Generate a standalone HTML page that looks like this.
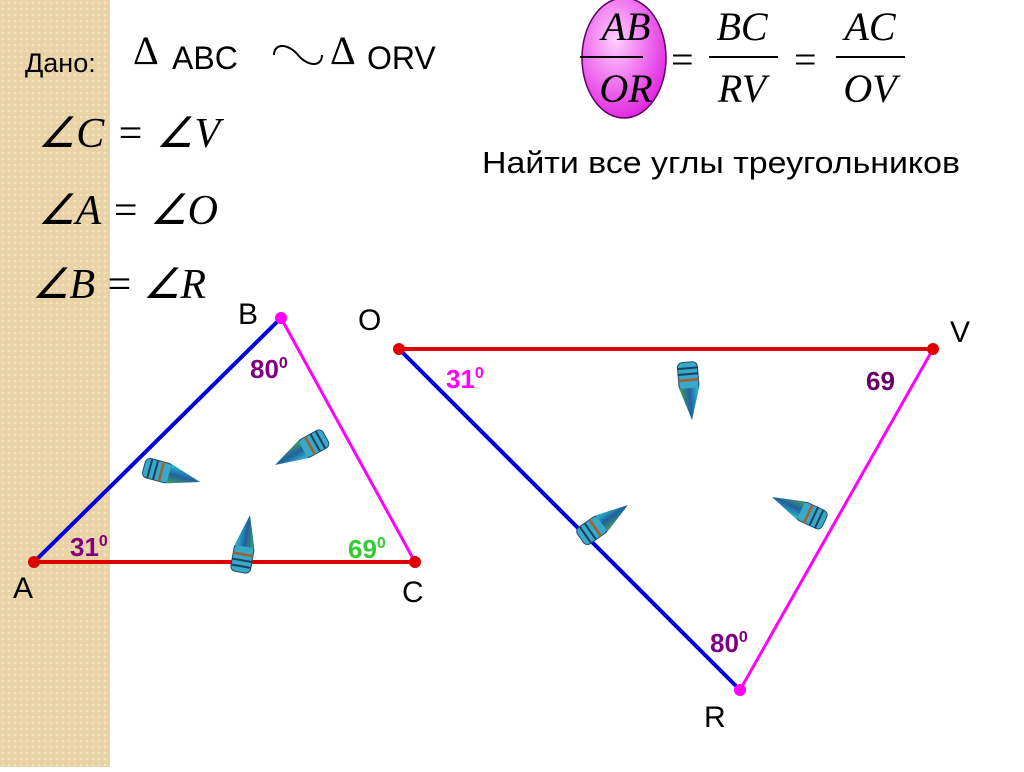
<!DOCTYPE html>
<html><head><meta charset="utf-8"><style>
body{margin:0;width:1024px;height:767px;overflow:hidden;background:#fff;font-family:"Liberation Sans",sans-serif}
</style></head><body>
<svg width="1024" height="767" viewBox="0 0 1024 767" xmlns="http://www.w3.org/2000/svg">
<defs>
<pattern id="p" width="6" height="6" patternUnits="userSpaceOnUse"><rect width="6" height="6" fill="#e9d3a6"/><circle cx="3" cy="3" r="1.2" fill="#f3e3c2"/></pattern>
<radialGradient id="eg" cx="0.4" cy="0.35" r="0.7"><stop offset="0" stop-color="#ffd0ff"/><stop offset="1" stop-color="#e020e0"/></radialGradient>
<linearGradient id="cg" x1="0" y1="0" x2="0" y2="1"><stop offset="0" stop-color="#30c0d0"/><stop offset="0.5" stop-color="#2060a0"/><stop offset="1" stop-color="#40a060"/></linearGradient>
<g id="d">
<rect x="-58" y="-10" width="28" height="20" rx="5" fill="#3aa8c8" stroke="#1a5070" stroke-width="1"/>
<line x1="-52" y1="-10" x2="-52" y2="10" stroke="#1a4060" stroke-width="2"/>
<line x1="-46" y1="-10" x2="-46" y2="10" stroke="#1a4060" stroke-width="2"/>
<line x1="-40" y1="-10" x2="-40" y2="10" stroke="#a06030" stroke-width="2.5"/>
<polygon points="-32,-10 0,0 -32,10" fill="url(#cg)"/>
</g>
</defs>
<rect x="0" y="0" width="110" height="767" fill="url(#p)"/>
<text x="25" y="72" font-size="27" fill="#000">Дано:</text>
<text x="133" y="64" font-size="40" font-family="Liberation Serif">Δ</text>
<text x="172" y="69" font-size="32">ABC</text>
<path d="M274,55 C274,43 288,43 298,55 C308,67 322,67 322,55" fill="none" stroke="#000" stroke-width="2"/>
<text x="330" y="64" font-size="40" font-family="Liberation Serif">Δ</text>
<text x="367" y="69" font-size="32">ORV</text>
<g font-family="Liberation Serif" font-size="42" font-style="italic">
<text x="38" y="147" textLength="182">∠C = ∠V</text>
<text x="38" y="224" textLength="180">∠A = ∠O</text>
<text x="32" y="298" textLength="174">∠B = ∠R</text>
</g>
<ellipse cx="624" cy="58" rx="42" ry="60" fill="url(#eg)" stroke="#600060" stroke-width="1.5"/>
<g font-family="Liberation Serif" font-size="40" font-style="italic" text-anchor="middle">
<text x="626" y="40">AB</text><text x="626" y="102">OR</text>
<text x="742" y="40">BC</text><text x="742" y="102">RV</text>
<text x="870" y="40">AC</text><text x="870" y="102">OV</text>
</g>
<g stroke="#000" stroke-width="2"><line x1="580" y1="57" x2="643" y2="57"/><line x1="709" y1="57" x2="778" y2="57"/><line x1="836" y1="57" x2="905" y2="57"/></g>
<text x="671" y="73" font-size="40" font-family="Liberation Serif">=</text>
<text x="794" y="73" font-size="40" font-family="Liberation Serif">=</text>
<text x="482" y="173" font-size="31" textLength="478" lengthAdjust="spacingAndGlyphs">Найти все углы треугольников</text>
<line x1="34" y1="562" x2="281" y2="318" stroke="#0000e0" stroke-width="4"/>
<line x1="34" y1="562" x2="415" y2="562" stroke="#e00000" stroke-width="4"/>
<line x1="281" y1="318" x2="415" y2="562" stroke="#ff00ff" stroke-width="3"/>
<circle cx="281" cy="318" r="6" fill="#ff00ff"/><circle cx="34" cy="562" r="6" fill="#e00000"/><circle cx="415" cy="562" r="6" fill="#e00000"/>
<line x1="399" y1="349" x2="740" y2="690" stroke="#0000e0" stroke-width="4"/>
<line x1="399" y1="349" x2="933" y2="349" stroke="#e00000" stroke-width="4"/>
<line x1="933" y1="349" x2="740" y2="690" stroke="#ff00ff" stroke-width="3"/>
<circle cx="399" cy="349" r="6" fill="#e00000"/><circle cx="933" cy="349" r="6" fill="#e00000"/><circle cx="740" cy="690" r="6" fill="#ff00ff"/>
<g font-size="30">
<text x="238" y="324">B</text><text x="13" y="598">A</text><text x="402" y="602">C</text>
<text x="358" y="330">O</text><text x="950" y="342">V</text><text x="704" y="727">R</text>
</g>
<g font-size="26" font-weight="bold">
<text x="250" y="378" fill="#800080">80<tspan font-size="16" dy="-10">0</tspan></text>
<text x="70" y="556" fill="#800080">31<tspan font-size="16" dy="-10">0</tspan></text>
<text x="348" y="558" fill="#33cc33">69<tspan font-size="16" dy="-10">0</tspan></text>
<text x="446" y="388" fill="#ff00ff">31<tspan font-size="16" dy="-10">0</tspan></text>
<text x="866" y="390" fill="#660066">69</text>
<text x="710" y="652" fill="#800080">80<tspan font-size="16" dy="-10">0</tspan></text>
</g>
<use href="#d" transform="translate(200,482) rotate(15)"/>
<use href="#d" transform="translate(275,465) rotate(151)"/>
<use href="#d" transform="translate(250,515) rotate(-80)"/>
<use href="#d" transform="translate(692,420) rotate(85)"/>
<use href="#d" transform="translate(628,505) rotate(-35)"/>
<use href="#d" transform="translate(772,497) rotate(205)"/>
</svg>
</body></html>
